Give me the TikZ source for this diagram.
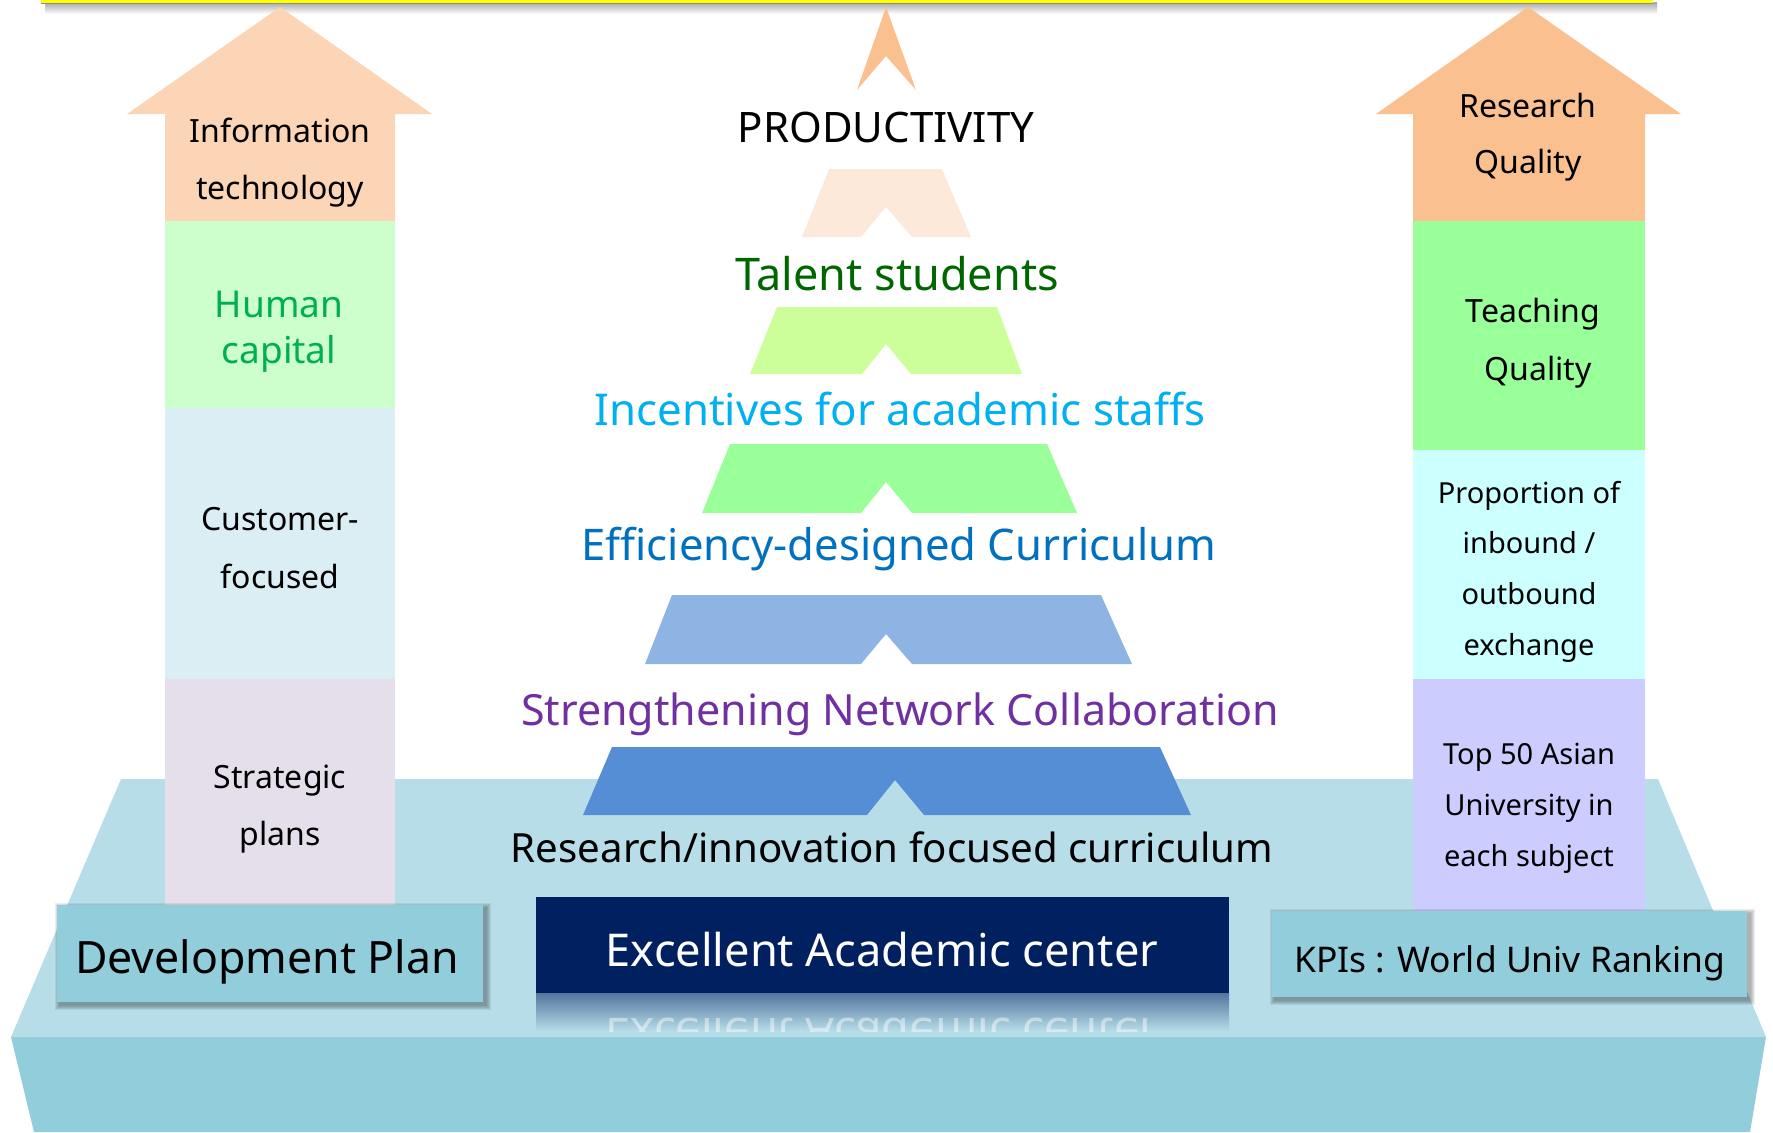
\documentclass[tikz,border=0pt]{standalone}
\usepackage{fontspec}
\setmainfont{Noto Sans}
\usepackage{graphicx}
\definecolor{platTop}{HTML}{B7DDE8}
\definecolor{platFront}{HTML}{92CDDC}
\definecolor{boxBlue}{HTML}{92CDDC}
\definecolor{navy}{HTML}{002060}
\definecolor{trPeach}{HTML}{FDE9D9}
\definecolor{trLime}{HTML}{CCFF99}
\definecolor{trGreen}{HTML}{99FF99}
\definecolor{trSky}{HTML}{8EB4E3}
\definecolor{trBlue}{HTML}{558ED5}
\definecolor{arrOrange}{HTML}{FAC090}
\definecolor{lOrange}{HTML}{FBD5B5}
\definecolor{lGreen}{HTML}{CCFFCC}
\definecolor{lBlue}{HTML}{DAEEF3}
\definecolor{lLav}{HTML}{E5DFEC}
\definecolor{rGreen}{HTML}{99FF99}
\definecolor{rCyan}{HTML}{CCFFFF}
\definecolor{rLav}{HTML}{CCCCFF}
\definecolor{txTalent}{HTML}{006600}
\definecolor{txHuman}{HTML}{00B050}
\definecolor{txIncent}{HTML}{00B0F0}
\definecolor{txEffic}{HTML}{0070C0}
\definecolor{txStreng}{HTML}{7030A0}
\definecolor{topYellow}{HTML}{FFFF00}
\begin{document}
\begin{tikzpicture}[x=0.5pt,y=-0.5pt,
  every node/.style={inner sep=0pt,outer sep=0pt,anchor=base},
  coltext/.style={font=\fontsize{16}{19}\selectfont},
  humantext/.style={font=\fontsize{18.5}{22}\selectfont,text=txHuman},
  smalltext/.style={font=\fontsize{14.5}{17}\selectfont},
  midlabel/.style={font=\fontsize{#1}{24}\selectfont},
  midlabel/.default=20,
  prodlabel/.style={font=\fontsize{21}{25}\selectfont},
  boxlabel/.style={font=\fontsize{#1}{26}\selectfont},
  boxlabel/.default=22.5,
  kpilabel/.style={font=\fontsize{17.7}{22}\selectfont},
]
\useasboundingbox (0,0) rectangle (1773,1132);

% top yellow band with shadow
\shade[top color=black!35,bottom color=white] (45,2) rectangle (1657,14);
\fill[topYellow] (41,0) rectangle (1653,3);
\draw[black!45,line width=0.5pt] (41,3.2) -- (1653,3.2);

% platform
\fill[platTop] (121,779) -- (1658,779) -- (1766,1037) -- (11,1037) -- cycle;
\fill[platFront] (11,1037) -- (1766,1037) -- (1750,1132) -- (34,1132) -- cycle;

% small arrow at top centre
\fill[arrOrange] (886,7) -- (916,90) -- (886,56) -- (857,90) -- cycle;

% notched trapezoids
\fill[trPeach] (829,169) -- (942,169) -- (971,237) -- (912,237) -- (886,207) -- (861,237) -- (802,237) -- cycle;
\fill[trLime] (777,307) -- (997,307) -- (1022,374) -- (911,374) -- (886,344) -- (862,374) -- (750,374) -- cycle;
\fill[trGreen] (730,444) -- (1047,444) -- (1077,513) -- (912,513) -- (886,482) -- (861,513) -- (702,513) -- cycle;
\fill[trSky] (672,595) -- (1101,595) -- (1132,664) -- (912,664) -- (886,634) -- (861,664) -- (645,664) -- cycle;
\fill[trBlue] (612,747) -- (1160,747) -- (1191,815) -- (924,815) -- (895,780) -- (867,815) -- (583,815) -- cycle;

% left column
\fill[lOrange] (165,221) -- (165,114) -- (127,114) -- (280,7) -- (432,114) -- (395,114) -- (395,221) -- cycle;
\fill[lGreen] (165,221) rectangle (395,408);
\fill[lBlue] (165,408) rectangle (395,679);
\fill[lLav] (165,679) rectangle (395,905);

% right column
\fill[arrOrange] (1413,221) -- (1413,114) -- (1376,114) -- (1528,7) -- (1681,114) -- (1645,114) -- (1645,221) -- cycle;
\fill[rGreen] (1413,221) rectangle (1645,450);
\fill[rCyan] (1413,450) rectangle (1645,679);
\fill[rLav] (1413,679) rectangle (1645,911);

% shadows of the boxes
\foreach \k in {0,1,2,3,4}{
  \fill[black,opacity=0.07] ({57-2+\k},{905-2+\k}) rectangle ({483+8-\k},{1002+8-\k});
  \fill[black,opacity=0.07] ({1272-2+\k},{911-2+\k}) rectangle ({1747+8-\k},{997+8-\k});
}
% boxes
\fill[boxBlue] (57,905) rectangle (483,1002);
\fill[boxBlue] (1272,911) rectangle (1747,997);
\fill[navy] (536,897) rectangle (1229,993);
% reflection of the navy box
\shade[top color=navy!55!platTop,bottom color=platTop] (536,993) rectangle (1229,1031);
\begin{scope}
  \clip (536,993) rectangle (1229,1031);
  \node[boxlabel=22.6,text=white,opacity=0.45,anchor=center] (exref) at (882,1035) {\scalebox{1}[-1]{Excellent Academic center}};
\end{scope}

% centre labels
\node[prodlabel] (prod) at (886,142) {PRODUCTIVITY};
\node[midlabel=22.5,text=txTalent] (talent) at (897,290) {Talent students};
\node[midlabel=21.9,text=txIncent] (incent) at (900,425) {Incentives for academic staffs};
\node[midlabel=21.8,text=txEffic] (effic) at (899,560) {Efficiency-designed Curriculum};
\node[midlabel=21.5,text=txStreng] (streng) at (900,725) {Strengthening Network Collaboration};
\node[midlabel=20.1] (resinno) at (892,862) {Research/innovation focused curriculum};

% box labels
\node[boxlabel=22.3] (dev) at (267,973) {Development Plan};
\node[boxlabel=22.6,text=white] (excel) at (882,966) {Excellent Academic center};
\node[kpilabel] (kpi) at (1510,972) {KPIs : World Univ Ranking};

% left column texts
\node[coltext] (it1) at (280,142) {Information};
\node[coltext] (it2) at (280,199) {technology};
\node[humantext] (hc1) at (279,317) {Human};
\node[humantext] (hc2) at (279,363) {capital};
\node[coltext] (cf1) at (280,530) {Customer-};
\node[coltext] (cf2) at (280,588) {focused};
\node[coltext] (sp1) at (280,788) {Strategic};
\node[coltext] (sp2) at (280,845) {plans};

% right column texts
\node[coltext] (rq1) at (1528,117) {Research};
\node[coltext] (rq2) at (1528,173) {Quality};
\node[coltext] (tq1) at (1533,322) {Teaching};
\node[coltext] (tq2) at (1538,380) {Quality};
\node[smalltext] (pr1) at (1529,503) {Proportion of};
\node[smalltext] (pr2) at (1529,553) {inbound /};
\node[smalltext] (pr3) at (1529,604) {outbound};
\node[smalltext] (pr4) at (1529,655) {exchange};
\node[smalltext] (tp1) at (1529,764) {Top 50 Asian};
\node[smalltext] (tp2) at (1529,815) {University in};
\node[smalltext] (tp3) at (1529,866) {each subject};
\end{tikzpicture}
\end{document}
